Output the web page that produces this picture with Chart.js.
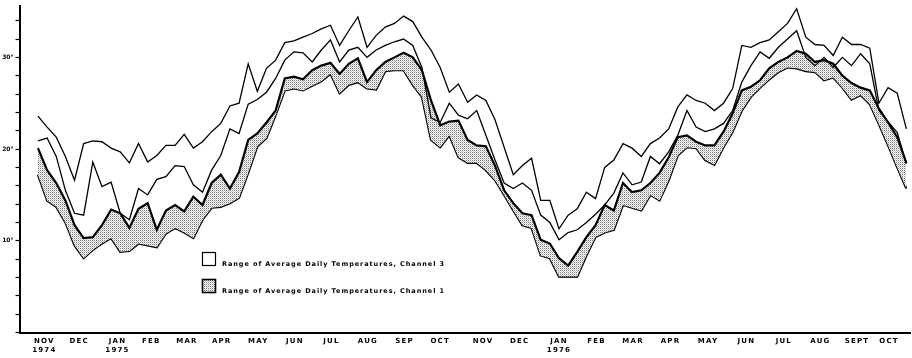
<!DOCTYPE html>
<html>
<head>
<meta charset="utf-8">
<script src="https://cdn.jsdelivr.net/npm/chart.js@4.4.1/dist/chart.umd.min.js"></script>
<style>
  html, body { margin: 0; padding: 0; background: #fff; }
</style>
</head>
<body>
<canvas id="myChart" width="912" height="358"></canvas>
<script>
// quarter-month steps, Nov 1974 .. Oct 1976
var ch3High = [23.6,22.4,21.3,19.2,16.6,20.6,20.9,20.8,20.1,19.7,
  18.5,20.6,18.6,19.3,20.4,20.4,21.6,20.1,20.8,21.9,
  22.8,24.7,25.0,29.3,26.3,28.8,29.7,31.6,31.8,32.2,
  32.6,33.1,33.5,31.3,32.9,34.4,31.1,32.4,33.3,33.7,
  34.5,33.9,32.2,30.8,28.9,26.2,27.1,25.1,25.9,25.3,
  23.2,20.2,17.2,18.2,19.0,14.4,14.4,11.3,12.8,13.5,
  15.3,14.6,18.0,18.8,20.6,20.1,19.2,20.6,21.2,22.2,
  24.6,25.9,25.3,25.0,24.2,25.0,26.6,31.3,31.1,31.6,
  31.9,32.8,33.7,35.3,32.2,31.4,31.3,30.2,32.2,31.4,
  31.4,31.0,25.0,26.7,26.1,22.2];

var ch3Low = [20.9,21.2,19.2,15.5,13.0,12.8,18.6,15.9,16.4,13.0,
  12.3,15.7,15.0,16.7,17.0,18.2,18.1,16.1,15.3,17.7,
  19.3,22.2,21.7,24.9,25.4,26.2,27.7,29.7,30.6,30.5,
  29.5,30.8,31.9,29.5,30.8,31.1,30.0,30.8,31.3,31.7,
  32.0,31.3,28.9,23.4,22.9,25.0,23.7,23.3,24.2,21.5,
  18.8,16.3,15.7,16.3,15.5,12.8,12.0,10.1,10.9,11.2,
  12.0,12.9,13.9,15.2,17.4,16.1,16.4,19.2,18.4,19.7,
  21.5,24.2,22.4,21.9,22.2,22.8,24.2,27.3,29.1,30.6,
  29.9,31.1,32.0,32.9,30.0,29.1,30.0,28.9,30.0,29.1,
  30.4,29.3,24.2,23.0,21.8,18.4];

var ch1High = [20.1,17.7,16.3,14.4,11.7,10.3,10.4,11.7,13.4,13.0,
  11.4,13.5,14.1,11.2,13.3,13.9,13.2,14.8,13.9,16.3,
  17.2,15.7,17.5,21.0,21.7,22.9,24.2,27.7,27.9,27.6,
  28.6,29.1,29.4,28.2,29.3,29.9,27.3,28.6,29.5,30.0,
  30.5,30.0,28.6,25.3,22.6,23.0,23.1,21.0,20.4,20.3,
  18.2,15.5,14.1,13.0,12.8,10.1,9.7,8.1,7.3,8.8,
  10.4,11.7,13.9,13.3,16.3,15.3,15.5,16.3,17.4,19.1,
  21.3,21.5,20.8,20.4,20.4,21.9,23.9,26.4,26.8,27.5,
  28.8,29.5,30.0,30.7,30.4,29.5,29.7,29.3,28.0,27.2,
  26.7,26.4,24.4,22.9,21.3,18.5];

var ch1Low = [17.2,14.4,13.7,12.0,9.5,8.1,9.0,9.7,10.3,8.8,
  8.9,9.7,9.5,9.3,10.8,11.4,10.9,10.3,12.3,13.6,
  13.7,14.1,14.7,17.4,20.3,21.2,23.7,26.4,26.6,26.4,
  26.9,27.4,28.2,26.1,27.0,27.3,26.6,26.5,28.5,28.6,
  28.6,27.0,25.7,21.0,20.2,21.5,19.1,18.5,18.5,17.7,
  16.6,15.0,13.3,11.7,11.4,8.4,8.1,6.1,6.1,6.1,
  8.4,10.4,10.9,11.2,13.9,13.6,13.3,15.0,14.4,16.6,
  19.3,20.2,20.1,18.8,18.3,20.2,21.9,24.2,25.7,26.7,
  27.6,28.4,28.9,28.8,28.5,28.4,27.5,27.8,26.7,25.4,
  25.9,24.9,22.7,20.4,18.0,15.7];

var monthLabels = [["NOV","1974"],"DEC",["JAN","1975"],"FEB","MAR","APR","MAY","JUN","JUL","AUG","SEP","OCT",
  "NOV","DEC",["JAN","1976"],"FEB","MAR","APR","MAY","JUN","JUL","AUG","SEPT","OCT"];
// label positions in quarter-month steps
var monthPos = [0.7,4.5,8.7,12.4,16.3,20.1,24.1,28.1,32.1,36.1,40.1,44.0,
  48.7,52.7,57.0,61.1,65.1,69.2,73.3,77.5,81.6,85.6,89.6,93.1];

var legendText = [
  "Range of Average Daily Temperatures, Channel 3",
  "Range of Average Daily Temperatures, Channel 1"
];

var FONT = '"DejaVu Sans", sans-serif';

function pts(arr) {
  return arr.map(function (v, i) { return { x: i, y: v }; });
}

var ctx = document.getElementById("myChart").getContext("2d");

// stipple fill
function makeStipple() {
  var c = document.createElement("canvas");
  c.width = 2;
  c.height = 2;
  var g = c.getContext("2d");
  g.fillStyle = "#fff";
  g.fillRect(0, 0, 2, 2);
  g.fillStyle = "#777";
  g.fillRect(0, 0, 1, 1);
  g.fillStyle = "#c8c8c8";
  g.fillRect(1, 1, 1, 1);
  return ctx.createPattern(c, "repeat");
}
var stipple = makeStipple();

var spacingPlugin = {
  id: "spacing",
  beforeDraw: function (chart) {
    chart.ctx.letterSpacing = "1.2px";
  }
};

var legendPlugin = {
  id: "boxLegend",
  afterDraw: function (chart) {
    var c = chart.ctx;
    c.save();
    c.strokeStyle = "#000";
    c.lineWidth = 1.2;
    c.fillStyle = "#fff";
    c.fillRect(202, 252, 13, 13);
    c.strokeRect(202.5, 252.5, 13, 13);
    c.fillStyle = stipple;
    c.fillRect(202, 279, 13, 13);
    c.lineWidth = 1.6;
    c.strokeRect(202.5, 279.5, 13, 13);

    c.fillStyle = "#000";
    c.font = "bold 6.5px " + FONT;
    c.textAlign = "left";
    c.textBaseline = "alphabetic";
    var ys = [266, 293];
    for (var k = 0; k < legendText.length; k++) {
      c.letterSpacing = "0px";
      var w = c.measureText(legendText[k]).width;
      var sp = (223 - w) / legendText[k].length;
      c.letterSpacing = sp + "px";
      c.fillText(legendText[k], 222, ys[k]);
    }
    c.restore();
  }
};

var myChart = new Chart(ctx, {
  type: "line",
  data: {
    datasets: [
      {
        label: "Channel 3 high",
        data: pts(ch3High),
        borderColor: "#000",
        borderWidth: 1.3,
        fill: false
      },
      {
        label: "Channel 3 low",
        data: pts(ch3Low),
        borderColor: "#000",
        borderWidth: 1.3,
        fill: false
      },
      {
        label: "Channel 1 high",
        data: pts(ch1High),
        borderColor: "#000",
        borderWidth: 2.2,
        backgroundColor: stipple,
        fill: "+1"
      },
      {
        label: "Channel 1 low",
        data: pts(ch1Low),
        borderColor: "#000",
        borderWidth: 2.2,
        fill: false
      },
      {
        // overlap of channel 1 above channel 3 low, drawn solid
        label: "overlap",
        data: pts(ch1High),
        borderWidth: 0,
        borderColor: "rgba(0,0,0,0)",
        fill: { target: 1, above: "#000", below: "rgba(0,0,0,0)" }
      }
    ]
  },
  options: {
    responsive: false,
    animation: false,
    devicePixelRatio: 1,
    elements: {
      point: { radius: 0 },
      line: { tension: 0 }
    },
    layout: { padding: { top: 6, right: 2, left: 0, bottom: 0 } },
    plugins: {
      legend: { display: false },
      tooltip: { enabled: false }
    },
    scales: {
      x: {
        type: "linear",
        min: -2.02,
        max: 95.4,
        border: { color: "#000", width: 2 },
        grid: { drawOnChartArea: false, drawTicks: false },
        afterBuildTicks: function (scale) {
          scale.ticks = monthPos.map(function (v) { return { value: v }; });
        },
        afterFit: function (scale) { scale.height = 25.5; },
        ticks: {
          autoSkip: false,
          maxRotation: 0,
          padding: 4,
          color: "#000",
          font: { family: FONT, size: 7, weight: "bold", lineHeight: 1.3 },
          callback: function (v, i) { return monthLabels[i]; }
        }
      },
      y: {
        min: 0,
        max: 35.6,
        border: { color: "#000", width: 2 },
        grid: { drawOnChartArea: false, tickLength: 4, tickColor: "#000", tickWidth: 1.2 },
        afterFit: function (scale) { scale.width = 19.5; },
        ticks: {
          stepSize: 2,
          includeBounds: false,
          padding: 2,
          color: "#000",
          font: { family: FONT, size: 6, weight: "bold" },
          callback: function (v) { return (v > 0 && v % 10 === 0) ? v + "°" : ""; }
        }
      }
    }
  },
  plugins: [spacingPlugin, legendPlugin]
});

// y labels are narrow in the original: draw them without the extra spacing
var yScale = myChart.scales.y;
var yDrawLabels = yScale.drawLabels;
yScale.drawLabels = function (area) {
  var c = this.ctx;
  var old = c.letterSpacing;
  c.letterSpacing = "0px";
  yDrawLabels.call(this, area);
  c.letterSpacing = old;
};
myChart.draw();
</script>
</body>
</html>
